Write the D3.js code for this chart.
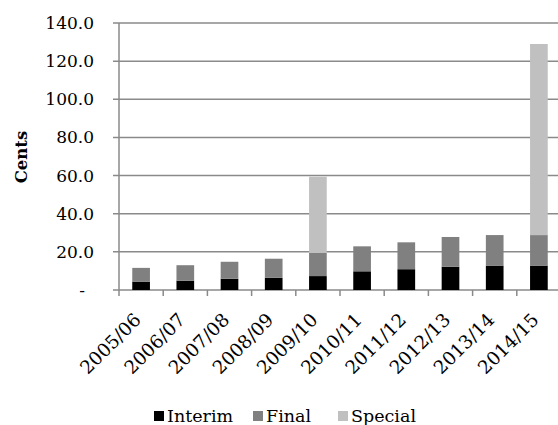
<!DOCTYPE html>
<html>
<head>
<meta charset="utf-8">
<script src="https://cdn.jsdelivr.net/npm/d3@7/dist/d3.min.js"></script>
<style>
  html, body { margin: 0; padding: 0; background: #fff; }
  svg { display: block; font-family: "DejaVu Serif", serif; }
</style>
</head>
<body>
<svg id="chart" width="558" height="425"></svg>
<script>
// Dividends per share (cents) by financial year
const years = ["2005/06", "2006/07", "2007/08", "2008/09", "2009/10",
               "2010/11", "2011/12", "2012/13", "2013/14", "2014/15"];
const interim = [4.4, 4.9, 5.9, 6.4, 7.3, 9.8, 10.9, 12.2, 12.8, 12.8];
const final   = [7.2, 8.1, 8.9, 10.0, 12.1, 13.1, 14.1, 15.6, 16.0, 16.0];
const special = [0, 0, 0, 0, 40.0, 0, 0, 0, 0, 100.2];
const seriesNames = ["Interim", "Final", "Special"];
const seriesColors = ["#000000", "#808080", "#c0c0c0"];
const yTicks = [0, 20, 40, 60, 80, 100, 120, 140];

const rows = years.map((yr, i) => ({ year: yr, Interim: interim[i], Final: final[i], Special: special[i] }));
const stacked = d3.stack().keys(seriesNames)(rows);

const svg = d3.select("#chart");
const plotLeft = 119, plotRight = 561, plotTop = 23, plotBottom = 290;

const x = d3.scaleBand().domain(years).range([plotLeft, plotRight]).paddingInner(0.6).paddingOuter(0.3);
const y = d3.scaleLinear().domain([0, 140]).range([plotBottom, plotTop]);

// horizontal gridlines with outward ticks
svg.append("g")
  .selectAll("line")
  .data(yTicks)
  .join("line")
  .attr("x1", plotLeft - 6).attr("x2", plotRight)
  .attr("y1", d => y(d)).attr("y2", d => y(d))
  .attr("stroke", "#8a8a8a").attr("stroke-width", 1.5);

// y-axis labels
svg.append("g")
  .selectAll("text")
  .data(yTicks)
  .join("text")
  .attr("x", d => d === 0 ? 85 : 94)
  .attr("y", d => y(d))
  .attr("dy", "0.35em")
  .attr("text-anchor", "end")
  .attr("font-size", 17)
  .attr("fill", "#000")
  .text(d => d === 0 ? "-" : d3.format(".1f")(d));

// stacked bars
svg.append("g")
  .selectAll("g")
  .data(stacked)
  .join("g")
  .attr("fill", (d, i) => seriesColors[i])
  .selectAll("rect")
  .data(d => d)
  .join("rect")
  .attr("x", d => x(d.data.year))
  .attr("width", x.bandwidth())
  .attr("y", d => y(d[1]))
  .attr("height", d => Math.max(0, y(d[0]) - y(d[1])));

// axis lines and category ticks
const axisG = svg.append("g").attr("stroke", "#8a8a8a").attr("stroke-width", 1.5);
axisG.append("line").attr("x1", plotLeft).attr("x2", plotLeft).attr("y1", plotTop).attr("y2", plotBottom + 6);
axisG.selectAll("line.tk")
  .data(years)
  .join("line")
  .attr("class", "tk")
  .attr("x1", (d, i) => plotLeft + x.step() * (i + 1))
  .attr("x2", (d, i) => plotLeft + x.step() * (i + 1))
  .attr("y1", plotBottom).attr("y2", plotBottom + 6);

// category labels, rotated
svg.append("g")
  .selectAll("text")
  .data(years)
  .join("text")
  .attr("transform", d => `translate(${x(d) + x.bandwidth() / 2 + 1},${plotBottom + 31}) rotate(-45)`)
  .attr("text-anchor", "end")
  .attr("font-size", 18.5)
  .attr("fill", "#000")
  .text(d => d);

// y-axis title
svg.append("text")
  .attr("transform", "translate(27,157) rotate(-90)")
  .attr("text-anchor", "middle")
  .attr("font-size", 16.5)
  .attr("font-weight", "bold")
  .attr("fill", "#000")
  .text("Cents");

// legend
const legendX = [154, 253, 338];
const lg = svg.append("g").selectAll("g")
  .data(seriesNames)
  .join("g")
  .attr("transform", (d, i) => `translate(${legendX[i]},411)`);
lg.append("rect").attr("width", 10).attr("height", 10).attr("fill", (d, i) => seriesColors[i]);
lg.append("text")
  .attr("x", 13).attr("y", 5).attr("dy", "0.35em")
  .attr("font-size", 17.5).attr("fill", "#000")
  .text(d => d);
</script>
</body>
</html>
